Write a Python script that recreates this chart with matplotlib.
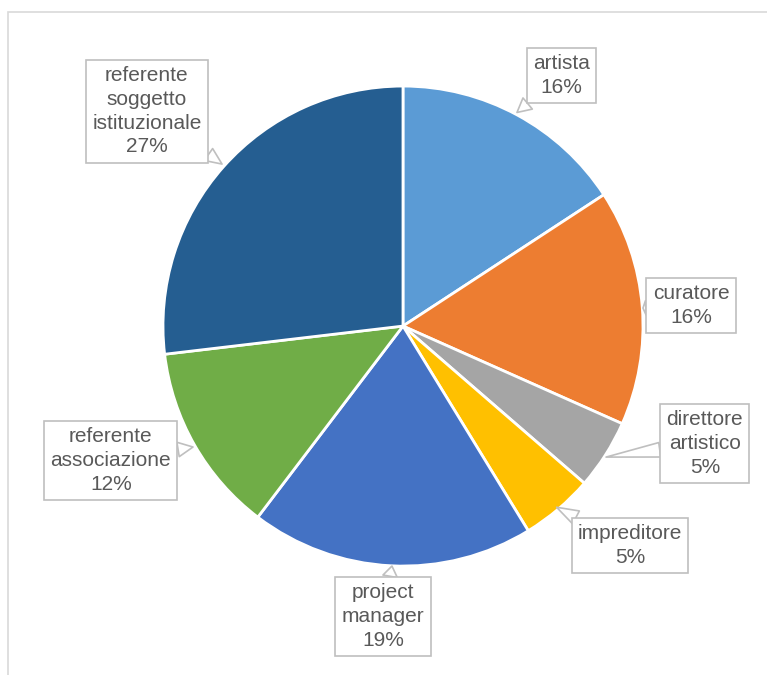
import matplotlib.pyplot as plt
from matplotlib.patches import Rectangle

labels = ['artista', 'curatore', 'direttore\nartistico', 'impreditore',
          'project\nmanager', 'referente\nassociazione',
          'referente\nsoggetto\nistituzionale']
shares = [15.8, 15.9, 4.7, 4.9, 19.1, 12.8, 26.9]
pct_labels = ['16%', '16%', '5%', '5%', '19%', '12%', '27%']
colors = ['#5B9BD5', '#ED7D31', '#A5A5A5', '#FFC000', '#4472C4', '#70AD47', '#255E91']

# label box centres and pointer tips, in pie units (radius = 1)
label_pos = [(0.66, 1.045), (1.20, 0.085), (1.258, -0.49), (0.946, -0.915),
             (-0.083, -1.21), (-1.217, -0.56), (-1.067, 0.895)]
tip_pos = [(0.475, 0.89), (1.0, 0.075), (0.846, -0.546), (0.64, -0.755),
           (-0.046, -1.0), (-0.875, -0.504), (-0.754, 0.675)]

fig = plt.figure(figsize=(7.67, 6.75), dpi=100)
plt.rcParams['font.family'] = ['Liberation Sans', 'DejaVu Sans']

# light chart border
fig.patches.append(Rectangle((8 / 767, -0.2), 1.2, 1 - 12 / 675 + 0.2,
                             transform=fig.transFigure, fill=False,
                             edgecolor='#D9D9D9', linewidth=1.2))

ax = fig.add_axes([0.5254 - 0.3129, 0.517 - 0.3556, 0.6258, 0.7111])
ax.pie(shares, colors=colors, startangle=90, counterclock=False, radius=1,
       wedgeprops=dict(edgecolor='white', linewidth=2))
ax.set_xlim(-1, 1)
ax.set_ylim(-1, 1)
ax.set_aspect('equal')
ax.axis('off')

for lab, pct, (tx, ty), (px, py) in zip(labels, pct_labels, label_pos, tip_pos):
    ax.annotate(f'{lab}\n{pct}', xy=(px, py), xytext=(tx, ty),
                ha='center', va='center', fontsize=15, color='#595959',
                linespacing=1.32, annotation_clip=False,
                bbox=dict(boxstyle='square,pad=0.3', fc='white', ec='#BFBFBF', lw=1.2),
                arrowprops=dict(arrowstyle='wedge,tail_width=0.7', fc='white',
                                ec='#BFBFBF', lw=1.2, shrinkA=0, shrinkB=0))

fig.savefig('out.png', dpi=100)
